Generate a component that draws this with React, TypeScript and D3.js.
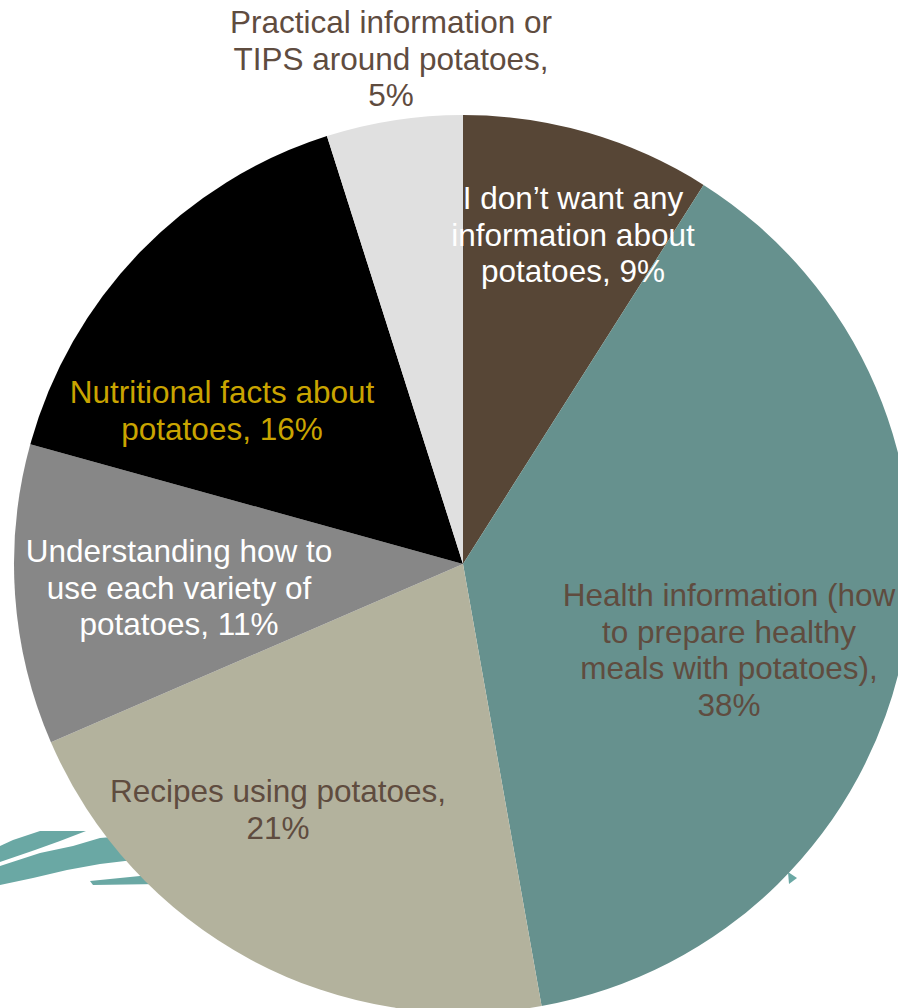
import React from "react";
import * as d3 from "d3";

const categories = [
  "I don\u2019t want any information about potatoes",
  "Health information (how to prepare healthy meals with potatoes)",
  "Recipes using potatoes",
  "Understanding how to use each variety of potatoes",
  "Nutritional facts about potatoes",
  "Practical information or TIPS around potatoes",
];
const values = [9.0, 38.2, 21.3, 10.8, 15.8, 4.9];
const colors = ["#574636", "#66918e", "#b3b29d", "#878787", "#000000", "#e0e0e0"];
const labelLines = [
  ["I don\u2019t want any", "information about", "potatoes, 9%"],
  ["Health information (how", "to prepare healthy", "meals with potatoes),", "38%"],
  ["Recipes using potatoes,", "21%"],
  ["Understanding how to", "use each variety of", "potatoes, 11%"],
  ["Nutritional facts about", "potatoes, 16%"],
  ["Practical information or", "TIPS around potatoes,", "5%"],
];
const labelColors = ["#ffffff", "#5f4c3f", "#5f4c3f", "#ffffff", "#c9a400", "#5f4c3f"];
// label block centre (x) and first baseline (y) in px
const labelPos: [number, number][] = [
  [573, 209],
  [729, 606],
  [278, 802],
  [179, 562],
  [222, 403],
  [391, 33],
];

const W = 898;
const H = 1008;
const cx = 463;
const cy = 564;
const R = 449;

export default function App() {
  const pie = d3
    .pie<number>()
    .sort(null)
    .value((d) => d)
    .startAngle(0)
    .endAngle(2 * Math.PI);
  const arcs = pie(values);
  const arc = d3.arc<d3.PieArcDatum<number>>().innerRadius(0).outerRadius(R);
  const lh = 36.5;

  return (
    <svg
      width={W}
      height={H}
      style={{ position: "absolute", left: 0, top: 0, background: "#fff" }}
      fontFamily="'Liberation Sans', Arial, sans-serif"
    >
      <rect x={0} y={0} width={W} height={H} fill="#ffffff" />
      {/* background logo stripes */}
      <g fill="#6aa8a4">
        <polygon points="0,846 13,840 40,831 86,831 60,841 35,850 0,862" />
        <polygon points="0,866 40,853 73,846 100,838 112,837 160,838 160,860 125,861 100,864 67,870 33,878 0,885" />
        <polygon points="90,881 140,876 160,876 160,884 93,885" />
        <polygon points="788,872 797,878 789,884" />
      </g>
      <g transform={`translate(${cx},${cy})`}>
        {arcs.map((a, i) => (
          <path key={categories[i]} d={arc(a) || ""} fill={colors[i]} />
        ))}
      </g>
      {labelLines.map((lines, i) => (
        <text
          key={"l" + i}
          x={labelPos[i][0]}
          y={labelPos[i][1]}
          fill={labelColors[i]}
          fontSize={31.5}
          textAnchor="middle"
        >
          {lines.map((ln, j) => (
            <tspan key={j} x={labelPos[i][0]} y={labelPos[i][1] + j * lh}>
              {ln}
            </tspan>
          ))}
        </text>
      ))}
    </svg>
  );
}
